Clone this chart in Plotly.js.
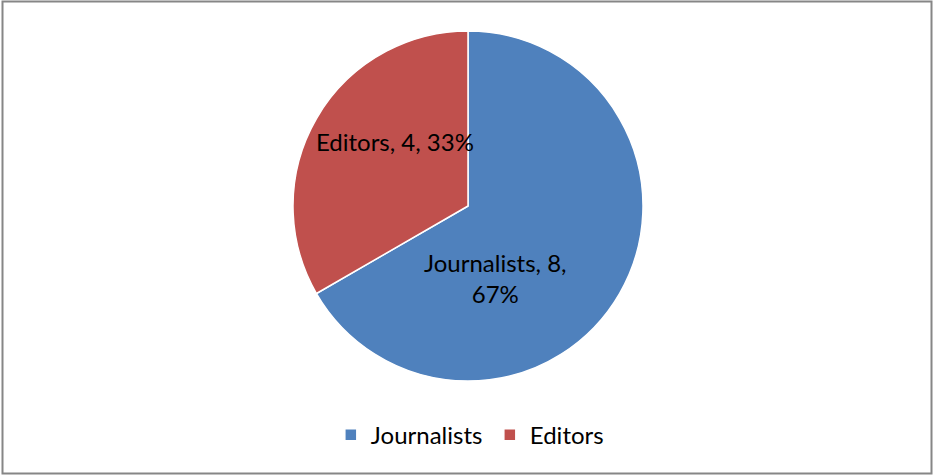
<!DOCTYPE html>
<html>
<head>
<meta charset="utf-8">
<script src="https://cdn.plot.ly/plotly-3.0.1.min.js"></script>
<style>html,body{margin:0;padding:0;background:#fff}#chart{width:933px;height:476px}</style>
</head>
<body>
<div id="chart"></div>
<script>
const categories = ["Journalists", "Editors"];
const values = [8, 4];
const colors = ["#4F81BD", "#C0504D"];

const W = 933, H = 476;
const cx = 468, cy = 206, R = 175;
const FONT = "Lato, 'Open Sans', sans-serif";

const total = values.reduce((a, b) => a + b, 0);
const labelText = categories.map((c, i) => {
  const pct = Math.round(values[i] / total * 100) + "%";
  return i === 0 ? `${c}, ${values[i]},<br>${pct}` : `${c}, ${values[i]}, ${pct}`;
});
// label anchor positions (pixels) as placed in the original chart
const labelPos = [[495, 278], [395, 141]];

const trace = {
  type: "pie",
  labels: categories,
  values: values,
  sort: false,
  direction: "clockwise",
  rotation: 0,
  marker: {colors: colors, line: {color: "#ffffff", width: 1.5}},
  textinfo: "none",
  hoverinfo: "none",
  domain: {x: [(cx - R) / W, (cx + R) / W], y: [(H - cy - R) / H, (H - cy + R) / H]}
};

const layout = {
  width: W, height: H,
  margin: {l: 0, r: 0, t: 0, b: 0},
  paper_bgcolor: "#ffffff",
  showlegend: true,
  legend: {
    orientation: "h", x: 0.525, xanchor: "center", y: 0.086, yanchor: "middle",
    font: {family: FONT, size: 24, color: "#000000"},
    itemwidth: 30, traceorder: "normal", entrywidth: 114
  },
  annotations: labelText.map((t, i) => ({
    text: t, xref: "paper", yref: "paper",
    x: labelPos[i][0] / W, y: 1 - labelPos[i][1] / H,
    xanchor: "center", yanchor: "middle", showarrow: false, align: "center",
    font: {family: FONT, size: 24, color: "#000000"}
  })),
  shapes: [{
    type: "rect", xref: "paper", yref: "paper",
    x0: 2.5 / W, x1: 931.5 / W, y0: 2.5 / H, y1: 474.5 / H,
    line: {color: "#868686", width: 2}
  }]
};

Plotly.newPlot("chart", [trace], layout, {displayModeBar: false, staticPlot: true});
</script>
</body>
</html>
